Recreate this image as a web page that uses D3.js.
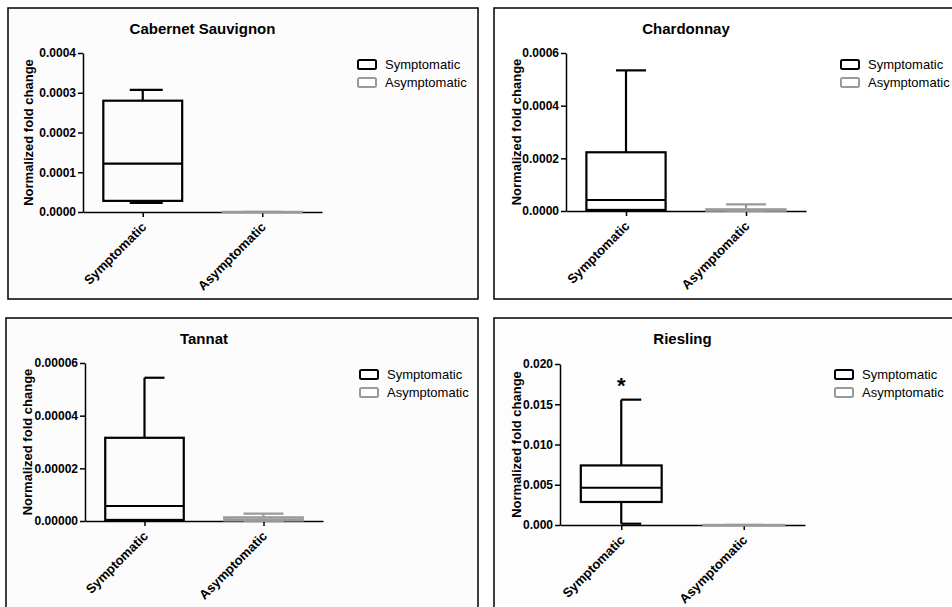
<!DOCTYPE html>
<html lang="en">
<head>
    <meta charset="UTF-8">
    <script src="https://d3js.org/d3.v7.min.js"></script>
    <title>Normalized fold change</title>
    <style>
        body {
            margin: 0;
            background-color: #ffffff;
        }
        * {
            font-family: 'Liberation Sans', Arial, sans-serif;
        }
        .tick text {
            font-weight: bold;
            font-size: 12px;
            fill: #000;
        }
    </style>
</head>
<body>
<svg id="canvas" width="952" height="607"></svg>
<script>
// values: [min, q1, median, q3, max]
let groups = ['Symptomatic', 'Asymptomatic']
let cultivars = ['Cabernet Sauvignon', 'Chardonnay', 'Tannat', 'Riesling']
let symptomaticStats = [
    [0.0000226, 0.000028, 0.0001215, 0.00028, 0.000307],
    [0.000002, 0.000004, 0.0000418, 0.000223, 0.000534],
    [0.0000002, 0.0000004, 0.0000057, 0.0000316, 0.0000544],
    [0.00016, 0.00286, 0.00463, 0.0074, 0.01557]
]
let asymptomaticStats = [
    [0, 0, 0, 0.0000003, 0.0000006],
    [0, 0.000001, 0.000003, 0.0000065, 0.0000254],
    [0, 0.0000002, 0.0000006, 0.0000014, 0.0000028],
    [0, 0, 0, 0.000005, 0.00001]
]
let yMax = [0.0004, 0.0006, 0.00006, 0.020]
let yTicks = [
    [0, 0.0001, 0.0002, 0.0003, 0.0004],
    [0, 0.0002, 0.0004, 0.0006],
    [0, 0.00002, 0.00004, 0.00006],
    [0, 0.005, 0.010, 0.015, 0.020]
]
let tickDecimals = [4, 4, 5, 3]
let significance = ['', '', '', '*']

// panel layout in pixels
let panels = [
    {fx: 8, fy: 8, fw: 470, fh: 291, ax: 83, top: 53, bottom: 212, right: 322, labelOff: 55, capLeft: 13, bg: '#fcfcfc'},
    {fx: 494, fy: 8, fw: 470, fh: 291, ax: 566, top: 53, bottom: 211, right: 806, labelOff: 50, capLeft: 10, bg: '#ffffff'},
    {fx: 6, fy: 318, fw: 472, fh: 300, ax: 85, top: 363, bottom: 521, right: 323, labelOff: 58, capLeft: 0, bg: '#fcfcfc'},
    {fx: 494, fy: 318, fw: 470, fh: 300, ax: 560, top: 364, bottom: 525, right: 805, labelOff: 44, capLeft: 0, bg: '#fdfdfd'}
]

let canvas = d3.select('#canvas')
let colors = {Symptomatic: '#000000', Asymptomatic: '#9a9a9a'}

let drawPanel = (i) => {
    let p = panels[i]
    let g = canvas.append('g')

    g.append('rect')
        .attr('x', p.fx).attr('y', p.fy)
        .attr('width', p.fw).attr('height', p.fh)
        .attr('fill', p.bg)
        .attr('stroke', '#000').attr('stroke-width', 1.5)

    let y = d3.scaleLinear().domain([0, yMax[i]]).range([p.bottom, p.top])
    let x = d3.scalePoint().domain(groups).range([p.ax, p.right]).padding(0.5)
    let boxW = (p.right - p.ax) * 0.33

    // title
    g.append('text')
        .attr('x', (p.ax + p.right) / 2)
        .attr('y', p.fy + 26)
        .attr('text-anchor', 'middle')
        .style('font-weight', 'bold')
        .style('font-size', '15px')
        .text(cultivars[i])

    // y axis
    let yAxis = g.append('g')
        .attr('transform', 'translate(' + p.ax + ',0)')
        .call(d3.axisLeft(y)
            .tickValues(yTicks[i])
            .tickFormat(d3.format('.' + tickDecimals[i] + 'f'))
            .tickSize(5)
            .tickSizeOuter(0))
    yAxis.selectAll('path, line').attr('stroke', '#000').attr('stroke-width', 1.5)
    yAxis.selectAll('text').attr('x', -7)

    g.append('text')
        .attr('transform', 'translate(' + (p.ax - p.labelOff) + ',' + ((p.top + p.bottom) / 2) + ') rotate(-90)')
        .attr('text-anchor', 'middle')
        .attr('dy', '0.35em')
        .style('font-weight', 'bold')
        .style('font-size', '13px')
        .text('Normalized fold change')

    // x axis
    let xAxis = g.append('g')
        .attr('transform', 'translate(0,' + p.bottom + ')')
        .call(d3.axisBottom(x).tickSize(5).tickSizeOuter(0))
    xAxis.selectAll('path, line').attr('stroke', '#000').attr('stroke-width', 1.5)
    xAxis.selectAll('text')
        .attr('text-anchor', 'end')
        .attr('transform', 'translate(-5,7) rotate(-45)')
        .attr('x', 0).attr('y', 8).attr('dy', '0.35em')
        .style('font-size', '13px')

    // boxes
    let stats = [symptomaticStats[i], asymptomaticStats[i]]
    stats.forEach((s, k) => {
        let grp = groups[k]
        let cx = x(grp)
        let col = colors[grp]
        let capL = k === 0 ? p.capLeft : 20
        let box = g.append('g')
            .attr('stroke', col)
            .attr('stroke-width', 2.2)
            .attr('fill', 'none')

        // whiskers
        box.append('line')
            .attr('x1', cx).attr('x2', cx)
            .attr('y1', y(s[3])).attr('y2', y(s[4]))
        box.append('line')
            .attr('x1', cx).attr('x2', cx)
            .attr('y1', y(s[1])).attr('y2', y(s[0]))
        box.append('line')
            .attr('x1', cx - capL).attr('x2', cx + 20)
            .attr('y1', y(s[4])).attr('y2', y(s[4]))
        box.append('line')
            .attr('x1', cx - capL).attr('x2', cx + 20)
            .attr('y1', y(s[0])).attr('y2', y(s[0]))

        box.append('rect')
            .attr('x', cx - boxW / 2)
            .attr('y', y(s[3]))
            .attr('width', boxW)
            .attr('height', Math.max(0.5, y(s[1]) - y(s[3])))
        box.append('line')
            .attr('x1', cx - boxW / 2).attr('x2', cx + boxW / 2)
            .attr('y1', y(s[2])).attr('y2', y(s[2]))
    })

    if (significance[i]) {
        g.append('text')
            .attr('x', x(groups[0]))
            .attr('y', y(symptomaticStats[i][4]) - 7)
            .attr('text-anchor', 'middle')
            .style('font-weight', 'bold')
            .style('font-size', '22px')
            .text(significance[i])
    }

    // legend
    groups.forEach((grp, k) => {
        let lx = p.ax + 275
        let ly = p.fy + 52 + k * 18
        g.append('rect')
            .attr('x', lx).attr('y', ly)
            .attr('width', 18).attr('height', 9)
            .attr('rx', 1.5)
            .attr('fill', '#fff')
            .attr('stroke', colors[grp])
            .attr('stroke-width', 2)
        g.append('text')
            .attr('x', lx + 27)
            .attr('y', ly + 4.5)
            .attr('dy', '0.35em')
            .style('font-size', '13px')
            .text(grp)
    })
}

cultivars.forEach((c, i) => drawPanel(i))
</script>
</body>
</html>
